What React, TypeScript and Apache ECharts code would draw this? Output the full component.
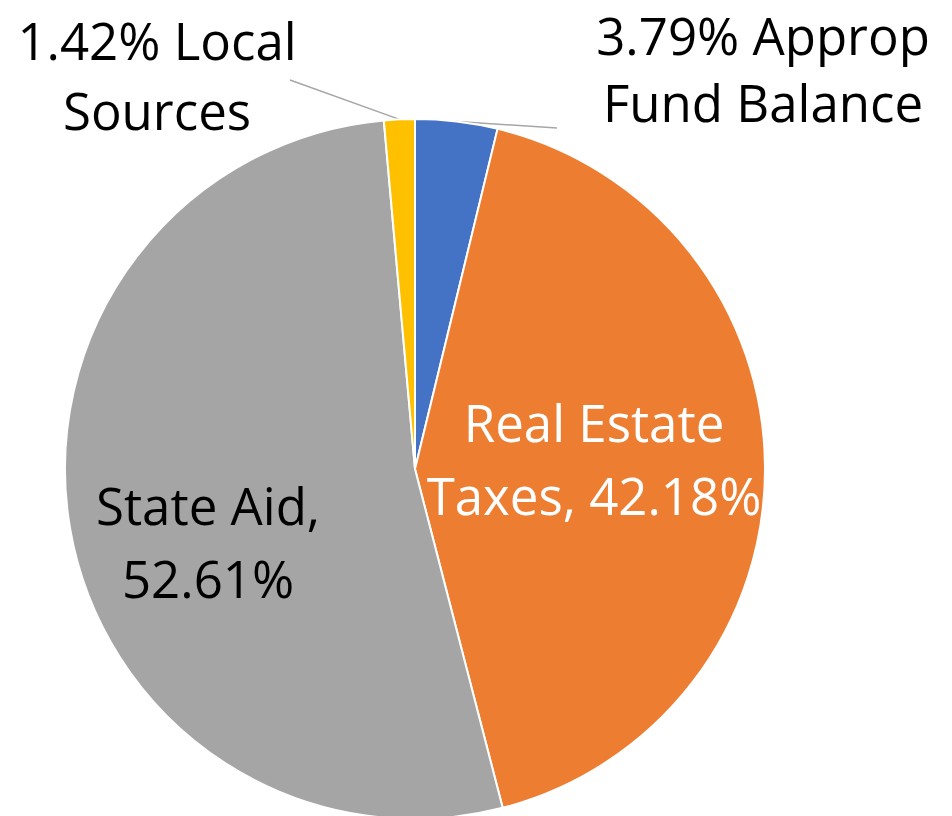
import React, { useEffect, useRef } from "react";
import * as echarts from "echarts";

const names = ["Approp Fund Balance", "Real Estate Taxes", "State Aid", "Local Sources"];
const values = [3.79, 42.18, 52.61, 1.42];
const colors = ["#4472C4", "#ED7D31", "#A5A5A5", "#FFC000"];

const fmt = (i: number, v: number) => {
  const p = v.toFixed(2) + "%";
  if (i === 0) return `{a|${p} Approp}\n{b|Fund Balance}`;
  if (i === 1) return `Real Estate\nTaxes, ${p}`;
  if (i === 2) return `State Aid,\n${p}`;
  return `{a|${p} Local}\n{c|Sources}`;
};

const FONT = "Open Sans";
const FS = 51;

const labelPos: Record<number, [number, number]> = {
  0: [763, 77],
  1: [594, 458],
  2: [208, 541],
  3: [157, 85],
};

// end points of the connector lines, next to the outside labels
const lineEnds: Record<number, [number, number]> = {
  0: [557, 128],
  3: [290, 80],
};

export default function App() {
  const ref = useRef<HTMLDivElement>(null);
  useEffect(() => {
    document.body.style.margin = "0";
    const chart = echarts.init(ref.current!, undefined, { renderer: "svg" });
    const data = values.map((v, i) => ({
      value: v,
      name: names[i],
      itemStyle: { color: colors[i] },
      label: {
        position: i === 1 || i === 2 ? "inside" : "outside",
        color: i === 1 ? "#ffffff" : "#000000",
      },
      labelLine: { show: i === 0 || i === 3 },
    }));
    chart.setOption({
      animation: false,
      backgroundColor: "#ffffff",
      series: [
        {
          type: "pie",
          center: [415, 469],
          radius: 350,
          startAngle: 90,
          clockwise: true,
          avoidLabelOverlap: false,
          itemStyle: { borderColor: "#ffffff", borderWidth: 2 },
          label: {
            show: true,
            fontFamily: FONT,
            fontSize: FS,
            lineHeight: 73,
            align: "center",
            formatter: (p: any) => fmt(p.dataIndex, p.value),
            rich: {
              a: { fontFamily: FONT, fontSize: FS, lineHeight: 50, color: "#000000", align: "center" },
              b: { fontFamily: FONT, fontSize: FS, lineHeight: 84, color: "#000000", align: "center" },
              c: { fontFamily: FONT, fontSize: FS, lineHeight: 90, color: "#000000", align: "center" },
            },
          },
          labelLine: {
            show: true,
            length: 4,
            length2: 4,
            smooth: false,
            lineStyle: { color: "#A6A6A6", width: 1.5 },
          },
          labelLayout: (p: any) => {
            const i = p.dataIndex;
            const pos = labelPos[i];
            const out: any = { x: pos[0], y: pos[1], align: "center", verticalAlign: "middle" };
            const end = lineEnds[i];
            if (end && p.labelLinePoints && p.labelLinePoints.length) {
              const a = p.labelLinePoints[0];
              out.labelLinePoints = [[a[0], a[1]], [end[0], end[1]]];
            }
            return out;
          },
          data,
        },
      ],
    });
    return () => chart.dispose();
  }, []);
  return <div ref={ref} style={{ width: 952, height: 816 }} />;
}
